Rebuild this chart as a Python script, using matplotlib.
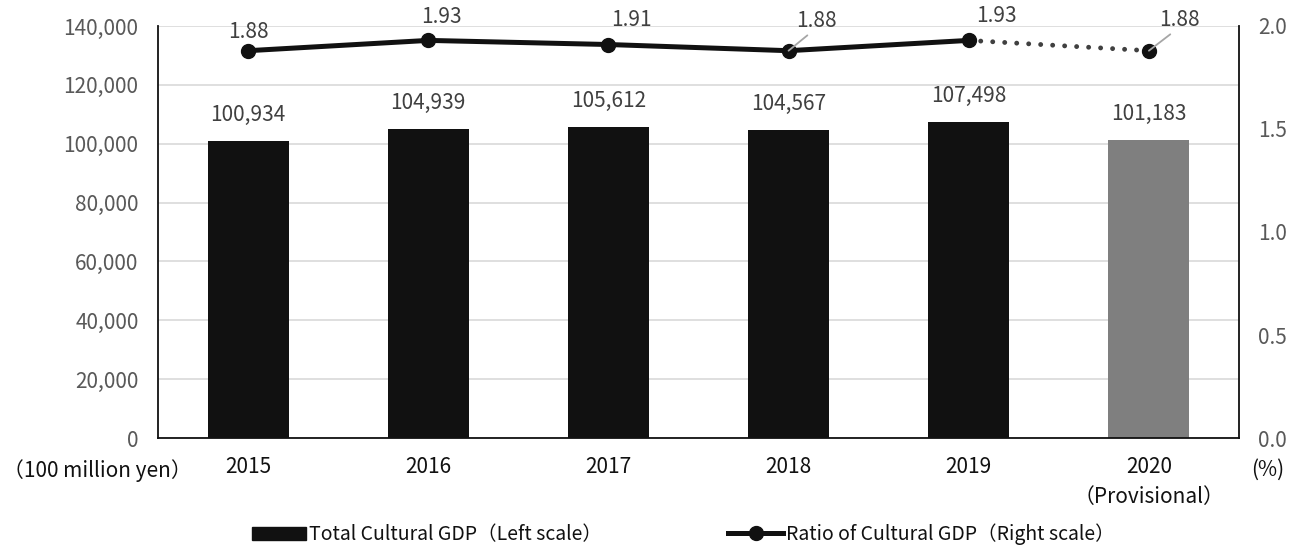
import matplotlib.pyplot as plt
from matplotlib.lines import Line2D
from matplotlib.patches import Patch

plt.rcParams['font.family'] = ['Noto Sans CJK JP', 'DejaVu Sans']

years = ['2015', '2016', '2017', '2018', '2019', '2020\n（Provisional）']
gdp = [100934, 104939, 105612, 104567, 107498, 101183]
ratio = [1.88, 1.93, 1.91, 1.88, 1.93, 1.88]
bar_colors = ['#111111'] * 5 + ['#7f7f7f']

# where the ratio labels sit relative to their points (pixels)
ratio_offsets = [(0, 19), (13, 23), (23, 25), (28, 30), (28, 24), (31, 31)]
leader = [False, False, False, True, False, True]

fs = 15

fig = plt.figure(figsize=(12.96, 5.48), dpi=100)
ax = fig.add_axes([0.1219, 0.2007, 0.8341, 0.7519])
ax2 = ax.twinx()

x = list(range(len(years)))
ax.bar(x, gdp, width=0.45, color=bar_colors, zorder=2)
for xi, v in zip(x, gdp):
    ax.annotate(f'{v:,}', (xi, v), xytext=(0, 26), textcoords='offset pixels',
                ha='center', va='center', fontsize=fs, color='#404040')

ax.set_xlim(-0.5, 5.5)
ax.set_ylim(0, 140000)
ax.set_yticks(range(0, 140001, 20000))
ax.yaxis.set_major_formatter(plt.FuncFormatter(lambda v, p: f'{int(v):,}'))
ax.grid(axis='y', color='#d9d9d9', linewidth=1.2, zorder=0)
ax.set_axisbelow(True)
ax.set_xticks(x)
ax.set_xticklabels(years, fontsize=fs, color='#111111', linespacing=1.45)
ax.tick_params(axis='x', length=0, pad=13)
ax.tick_params(axis='y', length=0, labelsize=fs, labelcolor='#595959', pad=14)
for s in ['top', 'right']:
    ax.spines[s].set_visible(False)
for s in ['left', 'bottom']:
    ax.spines[s].set_color('#111111')
    ax.spines[s].set_linewidth(1.3)

# ratio line: solid up to 2019, dotted to the provisional year
ax2.plot(x[4:], ratio[4:], color='#404040', linewidth=3.5, linestyle=(0, (0.01, 2.46)),
         dash_capstyle='round', zorder=2)
ax2.plot(x[:5], ratio[:5], color='#111111', linewidth=3.6, marker='o',
         markersize=10, zorder=3)
ax2.plot(x[5:], ratio[5:], color='#111111', linestyle='none', marker='o',
         markersize=10, zorder=3)
for xi, v, (dx, dy), ld in zip(x, ratio, ratio_offsets, leader):
    props = None
    if ld:
        props = dict(arrowstyle='-', color='#a6a6a6', lw=1.3, shrinkA=1, shrinkB=0,
                     relpos=(0.45, 0.1))
    ax2.annotate(f'{v:.2f}', (xi, v), xytext=(dx, dy), textcoords='offset pixels',
                 ha='center', va='center', fontsize=fs, color='#404040',
                 arrowprops=props, zorder=4)
ax2.set_ylim(0, 2.0)
ax2.set_yticks([0.0, 0.5, 1.0, 1.5, 2.0])
ax2.yaxis.set_major_formatter(plt.FuncFormatter(lambda v, p: f'{v:.1f}'))
ax2.tick_params(axis='y', length=0, labelsize=fs, labelcolor='#595959', pad=14)
for s in ['top', 'left', 'bottom']:
    ax2.spines[s].set_visible(False)
ax2.spines['right'].set_color('#111111')
ax2.spines['right'].set_linewidth(1.3)

fig.text(0.002, 0.142, '（100 million yen）', fontsize=fs, color='#111111',
         ha='left', va='center')
fig.text(0.9785, 0.142, '(%)', fontsize=fs, color='#111111', ha='center', va='center')

handles = [Patch(color='#111111'),
           Line2D([], [], color='#111111', linewidth=3.6, marker='o', markersize=10)]
labels = ['Total Cultural GDP（Left scale）', 'Ratio of Cultural GDP（Right scale）']
fig.legend(handles, labels, loc='center', bbox_to_anchor=(0.527, 0.025), ncol=2,
           frameon=False, fontsize=14, handlelength=2.8, handletextpad=0.15,
           columnspacing=6.5, labelcolor='#111111')

fig.savefig('out.png', dpi=100)
